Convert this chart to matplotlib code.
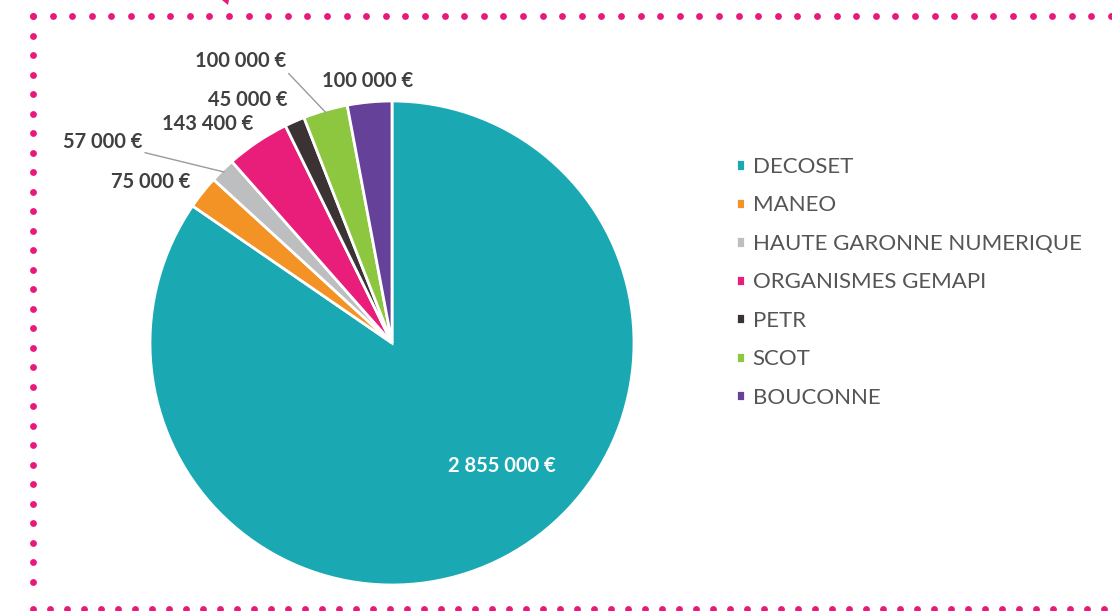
import numpy as np
import matplotlib.pyplot as plt

# data
names = ["DECOSET", "MANEO", "HAUTE GARONNE NUMERIQUE", "ORGANISMES GEMAPI",
         "PETR", "SCOT", "BOUCONNE"]
amounts = [2855000, 75000, 57000, 143400, 45000, 100000, 100000]
value_labels = ["2 855 000 €", "75 000 €", "57 000 €", "143 400 €",
                "45 000 €", "100 000 €", "100 000 €"]
colors = ["#1aa9b3", "#f39325", "#bdbec0", "#e91e7a", "#3b3234", "#8dc63f", "#65419a"]

# label offsets (pixels) from the wedge edge at mid angle, and leader flags
label_offsets = [(-3, 91), (-52, 10), (-82, 20), (-50, 18), (-47, 21), (-40, 42), (-2, 21)]
label_leader = [False, False, True, False, False, True, False]

W, H = 1112, 611
fig = plt.figure(figsize=(W / 100, H / 100), dpi=100)

# dotted pink frame
pink = "#e8197a"
bg = fig.add_axes([0, 0, 1, 1])
bg.set_xlim(0, W)
bg.set_ylim(H, 0)
bg.axis("off")
xs = np.arange(33, W + 10, 19.6)
bg.scatter(xs, np.full_like(xs, 16), s=24, color=pink, linewidths=0)
ys = np.arange(16, 600, 19.5)
bg.scatter(np.full_like(ys, 33), ys, s=24, color=pink, linewidths=0)
xb = np.arange(33, W + 10, 17)
bg.scatter(xb, np.full_like(xb, 609), s=24, color=pink, linewidths=0)
bg.fill([222, 229, 228], [0, 0, 5], color=pink, lw=0)

# pie
cx, cy, r = 392, 343, 242
ax = fig.add_axes([(cx - r) / W, (H - cy - r) / H, 2 * r / W, 2 * r / H])
wedges, _ = ax.pie(amounts, colors=colors, startangle=90, counterclock=False,
                   radius=1, wedgeprops=dict(edgecolor="white", linewidth=2))
ax.set_xlim(-1, 1)
ax.set_ylim(-1, 1)
ax.set_aspect("equal")

for i, w in enumerate(wedges):
    mid = np.deg2rad((w.theta1 + w.theta2) / 2)
    px, py = np.cos(mid), np.sin(mid)
    dx, dy = label_offsets[i]
    if i == 0:
        ax.annotate(value_labels[i], (px, py), xytext=(dx, dy), textcoords="offset pixels",
                    ha="center", va="center", color="white", fontsize=14.5,
                    fontweight="bold", family="Lato")
    elif label_leader[i]:
        ax.annotate(value_labels[i], (px * 0.99, py * 0.99), xytext=(dx, dy),
                    textcoords="offset pixels", ha="right", va="bottom",
                    color="#404040", fontsize=14.5, fontweight="bold", family="Lato",
                    arrowprops=dict(arrowstyle="-", color="#9a9a9a", lw=1,
                                    shrinkA=0, shrinkB=0,
                                    relpos=(1.0, 0.0)))
    else:
        ax.annotate(value_labels[i], (px, py), xytext=(dx, dy), textcoords="offset pixels",
                    ha="center", va="center", color="#404040", fontsize=14.5,
                    fontweight="bold", family="Lato")

leg = fig.legend(wedges, names, loc="upper left", bbox_to_anchor=(736 / W, 1 - 157 / H),
                 frameon=False, labelspacing=0.83, handlelength=0.4,
                 handleheight=0.4, handletextpad=0.35, borderpad=0, borderaxespad=0,
                 prop=dict(family="Lato", size=16))
for t in leg.get_texts():
    t.set_color("#555555")

fig.savefig("out.png", dpi=100)
